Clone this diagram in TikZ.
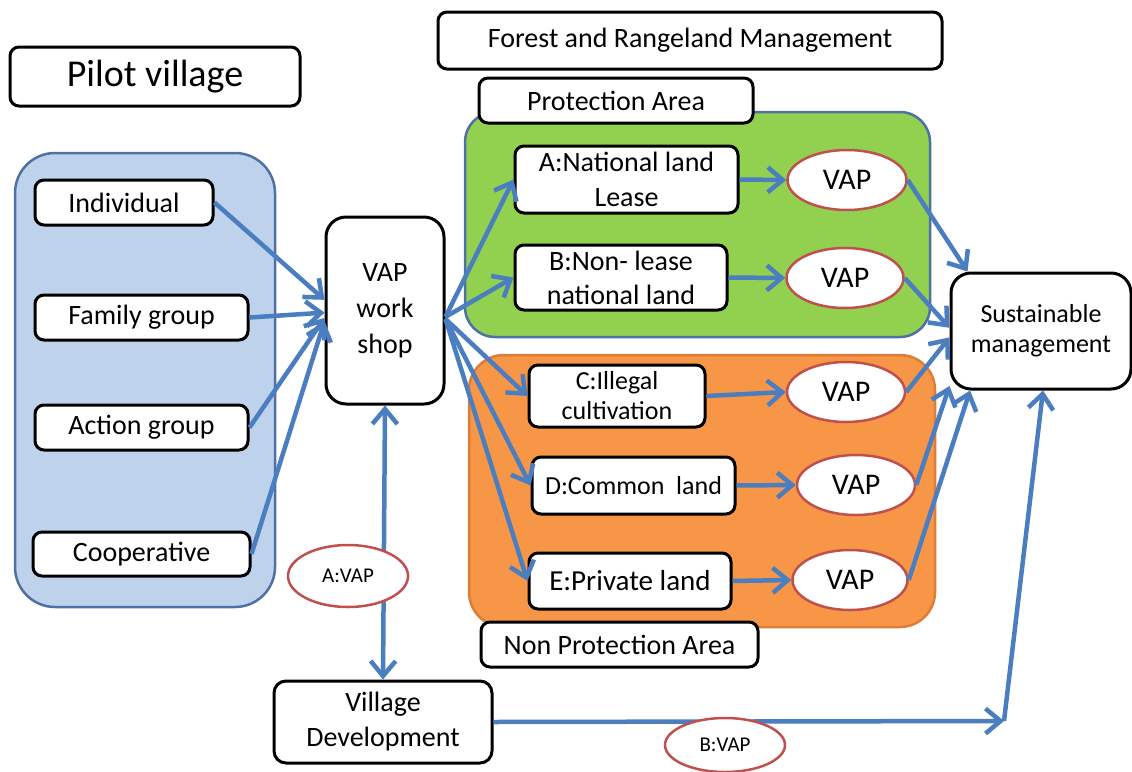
\documentclass[tikz,border=0pt]{standalone}
\usepackage{fontspec}
\setmainfont{Carlito}
\usetikzlibrary{%
  arrows.meta,%
  shapes.geometric%
}
\definecolor{groupblue}{RGB}{190,210,236}
\definecolor{regionline}{RGB}{79,112,165}
\definecolor{landgreen}{RGB}{146,208,80}
\definecolor{landorange}{RGB}{247,150,70}
\definecolor{orangeline}{RGB}{222,125,55}
\definecolor{linkblue}{RGB}{74,126,193}
\definecolor{vapred}{RGB}{192,80,77}
\tikzset{
  box/.style={draw,line width=3pt,rounded corners=9pt,fill=white,align=center,inner sep=0pt},
  vap/.style={ellipse,draw=vapred,line width=2.5pt,fill=white,inner sep=0pt},
  link/.style={linkblue,line width=4.5pt,->}
}

\begin{document}
\begin{tikzpicture}[x=1pt,y=-1pt,>={Straight Barb[length=15pt,width=25pt]}]
        \useasboundingbox (0,0) rectangle (1132,771);
        % areas
        \draw [regionline,fill=groupblue,line width=2.5pt,rounded corners=40pt] (15,153) rectangle (275,607);
        \draw [regionline,fill=landgreen,line width=2.5pt,rounded corners=30pt] (465,112) rectangle (930,337);
        \draw [orangeline,fill=landorange,line width=2.5pt,rounded corners=35pt] (469,355) rectangle (935,627);
        % boxes
        \node [box,minimum width=290pt,minimum height=59pt,font=\fontsize{38}{40}\selectfont] (pilot) at (155,76.5) {Pilot village};
        \node [box,minimum width=178pt,minimum height=45pt,font=\fontsize{28}{30}\selectfont] (indiv) at (124,202.5) {Individual};
        \node [box,minimum width=213pt,minimum height=45pt,font=\fontsize{28}{30}\selectfont] (family) at (141.5,317.5) {Family group};
        \node [box,minimum width=213pt,minimum height=45pt,font=\fontsize{28}{30}\selectfont] (action) at (141.5,427.5) {Action group};
        \node [box,minimum width=217pt,minimum height=44pt,font=\fontsize{28}{30}\selectfont] (coop) at (141.5,554) {Cooperative};
        \node [box,rounded corners=20pt,minimum width=118pt,minimum height=187pt,font=\fontsize{28}{36}\selectfont] (ws) at (385,310.5) {VAP\\work\\shop};
        \node [box,minimum width=504pt,minimum height=57pt,font=\fontsize{28}{30}\selectfont] (forest) at (690,40.5) {Forest and Rangeland Management};
        \node [box,minimum width=274pt,minimum height=45pt,font=\fontsize{28}{30}\selectfont] (prot) at (616,100.5) {Protection Area};
        \node [box,minimum width=223pt,minimum height=67pt,font=\fontsize{28}{35}\selectfont] (landA) at (626.5,179.5) {A:National land\\Lease};
        \node [box,minimum width=212pt,minimum height=65pt,font=\fontsize{28}{34}\selectfont] (landB) at (621,277.5) {B:Non- lease\\national land};
        \node [box,minimum width=176pt,minimum height=62pt,font=\fontsize{26}{30}\selectfont] (landC) at (617,396) {C:Illegal\\cultivation};
        \node [box,minimum width=203pt,minimum height=57pt,font=\fontsize{26}{30}\selectfont] (landD) at (633.5,485.5) {D:Common\ \ land};
        \node [box,minimum width=202pt,minimum height=56pt,font=\fontsize{29}{30}\selectfont] (landE) at (630,581) {E:Private land};
        \node [box,minimum width=277pt,minimum height=45pt,font=\fontsize{28}{30}\selectfont] (nonprot) at (619.5,644.5) {Non Protection Area};
        \node [box,rounded corners=20pt,minimum width=180pt,minimum height=116pt,font=\fontsize{26}{30}\selectfont] (sust) at (1041,331) {Sustainable\\management};
        \node [box,rounded corners=12pt,minimum width=218pt,minimum height=82pt,font=\fontsize{28}{35}\selectfont] (village) at (383,722) {Village\\Development};
        % VAP ellipses
        \node [vap,minimum width=119pt,minimum height=60pt,font=\fontsize{30}{30}\selectfont] (vapA) at (847,180) {VAP};
        \node [vap,minimum width=117pt,minimum height=60pt,font=\fontsize{30}{30}\selectfont] (vapB) at (845,278) {VAP};
        \node [vap,minimum width=118pt,minimum height=60pt,font=\fontsize{30}{30}\selectfont] (vapC) at (846,392) {VAP};
        \node [vap,minimum width=118pt,minimum height=60pt,font=\fontsize{30}{30}\selectfont] (vapD) at (856,485) {VAP};
        \node [vap,minimum width=115pt,minimum height=60pt,font=\fontsize{30}{30}\selectfont] (vapE) at (850,580) {VAP};
        % links
        \draw [link] (indiv.east) -- (ws.170);
        \draw [link] (family.east) -- (ws.182);
        \draw [link] (action.east) -- (ws.187);
        \draw [link] (coop.east) -- (ws.190);
        \draw [link] (ws.-6) -- (landA.west);
        \draw [link] (ws.-6) -- (landB.west);
        \draw [link] (ws.-8) -- (landC.west);
        \draw [link] (ws.-8) -- (landD.west);
        \draw [link] (ws.-8) -- (landE.west);
        \draw [link] (landA.east) -- (vapA.west);
        \draw [link] (landB.east) -- (vapB.west);
        \draw [link] (landC.east) -- (vapC.west);
        \draw [link] (landD.east) -- (vapD.west);
        \draw [link] (landE.east) -- (vapE.west);
        \draw [link] (vapA.east) -- (sust.141);
        \draw [link] (vapB.east) -- (sust.178);
        \draw [link] (vapC.east) -- (sust.184);
        \draw [link] (vapD.east) -- (sust.211);
        \draw [link] (vapE.east) -- (sust.220);
        \draw [link,<->] (ws.south) -- (village.north);
        \coordinate (turn) at (1004,721);
        \draw [link] (village.east) -- (turn);
        \draw [link] (turn) -- ([xshift=2pt]sust.south);
        % labels on the links
        \node [vap,minimum width=120pt,minimum height=62pt,font=\fontsize{21}{21}\selectfont] (avap) at (348,576) {A:VAP};
        \node [vap,minimum width=120pt,minimum height=54pt,font=\fontsize{21}{21}\selectfont] (bvap) at (725,745) {B:VAP};
\end{tikzpicture}
\end{document}
